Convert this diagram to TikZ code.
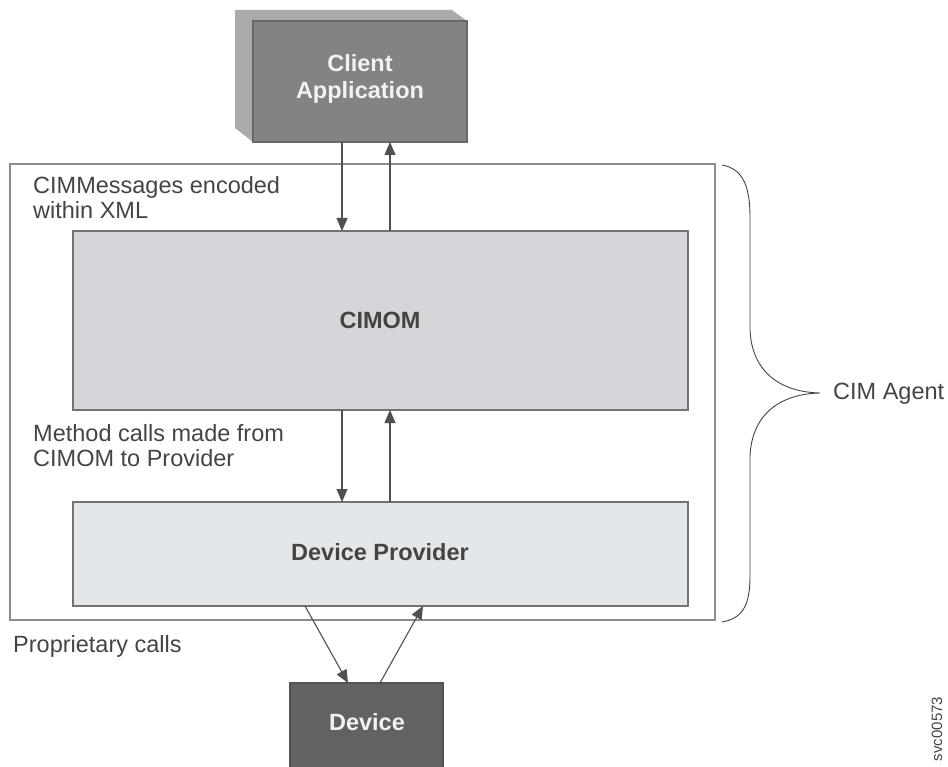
\documentclass[tikz,border=0pt]{standalone}
\usepackage{fontspec}
\setmainfont{Liberation Sans}
\usetikzlibrary{arrows.meta,calc}
\definecolor{txtgray}{HTML}{444444}
\definecolor{linegray}{HTML}{8C8C8C}
\definecolor{arrgray}{HTML}{505050}
\definecolor{clientfront}{HTML}{838386}
\definecolor{clientside}{HTML}{AAAAAC}
\definecolor{cimomfill}{HTML}{D6D6DA}
\definecolor{provfill}{HTML}{E4E7EA}
\definecolor{devfill}{HTML}{626264}
\begin{document}
\begin{tikzpicture}[x=1pt,y=-1pt,
  box/.style={draw=#1, line width=1.1pt, inner sep=0pt, outer sep=0pt, anchor=north west},
  lbl/.style={font=\fontsize{23.5}{25.5}\selectfont, text=txtgray, align=left, anchor=north west, inner sep=0pt},
  blbl/.style={font=\fontsize{23.5}{27}\selectfont\bfseries, align=center, inner sep=0pt},
  conn/.style={draw=arrgray, line width=1.1pt, -{Triangle[length=13pt,width=11pt]}},
]
\useasboundingbox (0,0) rectangle (948,767);

% Client application (3D box)
\fill[clientside] (235,10) -- (452,10) -- (467,21) -- (253,21) -- (253,142) -- (235,128) -- cycle;
\node[box=clientfront!80!black, fill=clientfront, minimum width=214pt, minimum height=121pt] (client) at (253,21) {};
\node[blbl, text=white!95!black] (clienttxt) at (360,79) {Client\\Application};

% CIM Agent outer box
\node[box=linegray, minimum width=705pt, minimum height=456pt] (agent) at (10,164) {};

% CIMOM
\node[box=gray!90!black, fill=cimomfill, minimum width=615pt, minimum height=179pt] (cimom) at (73,231) {};
\node[blbl, text=txtgray] (cimomtxt) at (380,320) {CIMOM};

% Device Provider
\node[box=gray!90!black, fill=provfill, minimum width=615pt, minimum height=104pt] (prov) at (73,502) {};
\node[blbl, text=txtgray] (provtxt) at (380,552) {Device Provider};

% Device
\node[box=devfill!85!black, fill=devfill, minimum width=153pt, minimum height=100pt] (device) at (290,683) {};
\node[blbl, text=white!95!black] (devtxt) at (367,722) {Device};

% labels
\node[lbl] (l1) at (33,176) {CIMMessages encoded\\within XML};
\node[lbl] (l2) at (33,424) {Method calls made from\\CIMOM to Provider};
\node[lbl] (l3) at (13,635) {Proprietary calls};
\node[font=\fontsize{23.5}{25}\selectfont, text=txtgray, anchor=west, inner sep=0pt] (agentlbl) at (833,394) {CIM Agent};
\node[font=\fontsize{15}{16}\selectfont, text=txtgray, rotate=90, inner sep=0pt] (svc) at (937,729) {svc00573};

% connectors
\coordinate (xa) at (342,0);
\coordinate (xb) at (390,0);
\draw[conn] (client.south -| xa) -- (cimom.north -| xa);
\draw[conn] (cimom.north -| xb) -- (client.south -| xb);
\draw[conn] (cimom.south -| xa) -- (prov.north -| xa);
\draw[conn] (prov.north -| xb) -- (cimom.south -| xb);
\draw[conn] ($(prov.south west)+(232,0)$) -- ($(device.north west)+(58,0)$);
\draw[conn] ($(device.north west)+(90,0)$) -- ($(prov.south west)+(350,0)$);

% brace
\coordinate (btop) at (722,165);
\coordinate (btip) at (820,393);
\coordinate (bbot) at (722,622);
\draw[txtgray, line width=0.9pt] (btop) .. controls (745,169) and (750,190) .. (750,218)
  -- (750,330) .. controls (752,372) and (780,392) .. (btip)
  .. controls (780,394) and (752,414) .. (750,456)
  -- (750,575) .. controls (750,602) and (745,618) .. (bbot);
\end{tikzpicture}
\end{document}
